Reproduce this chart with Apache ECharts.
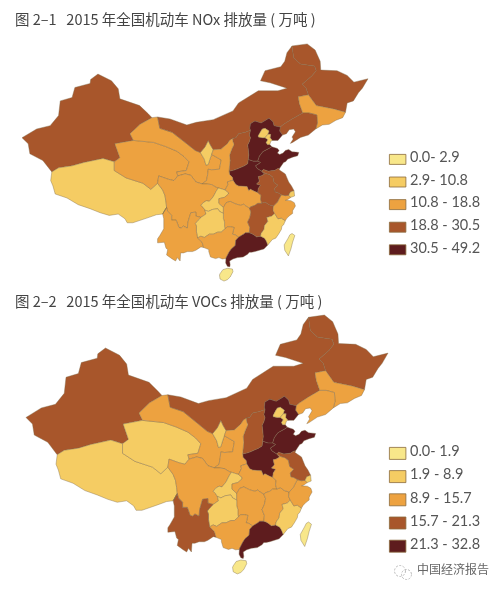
<!DOCTYPE html>
<html><head><meta charset="utf-8">
<style>html,body{margin:0;padding:0;background:#fff}#c{width:503px;height:591px}</style>
<script src="https://cdn.jsdelivr.net/npm/echarts@6/dist/echarts.min.js"></script>
</head><body><div id="c"></div>
<script>
const titleNox = '图 2–1   2015 年全国机动车 NOx 排放量 ( 万吨 )';
const titleVocs = '图 2–2   2015 年全国机动车 VOCs 排放量 ( 万吨 )';
const watermark = '中国经济报告';
const provinces = ['新疆','西藏','青海','甘肃','宁夏','内蒙古','黑龙江','吉林','辽宁','河北','北京','天津','山东','河南','山西','陕西','四川','重庆','湖北','湖南','贵州','云南','广西','广东','江西','福建','浙江','安徽','江苏','上海','海南','台湾'];
const noxValues = [22.1,3.4,11.5,14.2,9.6,27.4,24.6,17.3,26.8,49.2,8.9,9.8,46.5,41.3,28.9,17.6,18.2,10.2,18.4,18.1,10.5,17.9,16.5,36.7,20.3,10.6,18.5,21.2,29.8,9.5,2.5,0.0];
const vocsValues = [17.0,2.5,3.9,9.6,6.2,18.9,18.1,12.3,15.2,32.8,7.4,7.1,30.2,27.6,17.3,12.4,15.3,7.8,13.6,13.9,8.2,16.1,11.5,26.4,12.0,8.5,15.1,13.7,20.6,5.5,1.4,0.0];
const noxBreaks = [0,2.9,10.8,18.8,30.5,49.2];
const vocsBreaks = [0,1.9,8.9,15.7,21.3,32.8];
const noxLabels = ['0.0- 2.9','2.9- 10.8','10.8 - 18.8','18.8 - 30.5','30.5 - 49.2'];
const vocsLabels = ['0.0- 1.9','1.9 - 8.9','8.9 - 15.7','15.7 - 21.3','21.3 - 32.8'];
const classColors = ['#F8E78A','#F5CC63','#EDA240','#A8562B','#5E1C1E'];

// Province outlines in lon/lat, as shared border arcs
const arcs = {
xj_outer:[[78.8,34.5],[77.2,36.2],[74.9,37.2],[74.6,38.7],[73.5,39.6],[76.1,40.9],[78.5,41.4],[80,42.9],[80.3,45.1],[82.4,45.6],[82.9,47.1],[85.6,47.7],[85.7,48.3],[87,49.1],[89.4,48.1],[90.6,46.9],[90.9,45.4],[94.4,44.4],[95.9,43.2],[96.6,42.6]],
xj_gs:[[96.6,42.6],[94.5,41.6],[92.7,40.2],[93.3,39.2]],
xj_qh:[[93.3,39.2],[90,38.7],[90.9,36.6],[89.9,36]],
xj_xz:[[89.9,36],[87.9,36.5],[84.5,35.9],[82.4,35.4],[80,35.1],[78.8,34.5]],
xz_outer:[[78.8,34.5],[78.6,33.2],[79,32.4],[79.4,31.2],[81.5,30.6],[83.5,29.6],[85.6,29],[87.4,28.4],[89,28],[90.6,28.2],[91.8,27.5],[92.2,26.9],[93.2,26.9],[95.7,27.6],[97.4,28.1],[98.5,28.2]],
xz_yn:[[98.5,28.2],[99.2,29.2]],
xz_sc:[[99.2,29.2],[99.1,30],[98.9,31],[98.5,31.8],[97.6,32.8]],
xz_qh:[[97.6,32.8],[96.4,31.9],[95,32.8],[92,33.6],[89.9,34.7],[89.9,36]],
sc_qh:[[97.6,32.8],[97.8,33.9],[99.5,33.4],[100.5,33.2],[101.2,33.9]],
qh_gs:[[93.3,39.2],[96.9,38.9],[99,38.3],[101,37.6],[102.3,36.8],[103.2,36],[102.7,34.7],[101,34.5],[101.2,33.9]],
gs_out:[[96.6,42.6],[97.6,42.7]],
gs_im:[[97.6,42.7],[98,41],[100.2,40.4],[102.8,38.7],[104.3,37.7],[105.2,37.4]],
nx_im:[[105.2,37.4],[106,38.2],[106.6,39.2],[107,38.5],[107.5,37.8]],
nx_sn:[[107.5,37.8],[107.2,37.1]],
gs_nx:[[107.2,37.1],[106.9,36.4],[106.6,35.6],[106.2,35.5],[105.9,36.4],[105.2,37.4]],
gs_sn:[[107.2,37.1],[108.9,36.3],[108.6,34.9],[107.2,34.8],[106.6,34.9],[106.5,34.1],[106.3,33.2],[105.5,32.7]],
gs_sc:[[105.5,32.7],[104.4,33],[103.5,34],[102.5,34.2],[101.2,33.9]],
im_out:[[97.6,42.7],[99.8,42.4],[102.8,41.5],[104.5,41.9],[107.5,42.3],[111,43.6],[112,44.8],[115.5,46.6],[119,46.6],[120.6,47],[117.6,47.8],[115.9,48.1],[116.7,49.6],[119.5,50.2],[120.2,51],[120.6,52.3],[121.5,53.3]],
hlj_im:[[121.5,53.3],[121.8,51.5],[123,50.6],[125.5,50.3],[125.8,49.6],[125,48.8],[123.3,47.6],[124,47],[124.4,46]],
im_jl:[[124.4,46],[122.6,45.7],[122.8,44.7],[123.4,43.3]],
im_ln:[[123.4,43.3],[121.5,42.4],[120,41.6],[119.4,41.2]],
im_heb:[[119.4,41.2],[118.3,41.4],[118.1,42],[117.4,42.5],[116.8,42.2],[116,41.8],[114.9,42.1],[114.1,41.7],[114,41],[114.1,40.7]],
im_sxi:[[114.1,40.7],[113.2,40.4],[112,40.2],[111.5,39.6],[110.9,39.5]],
im_sn:[[110.9,39.5],[110.4,39.2],[110,38.7],[108.9,37.9],[107.5,37.8]],
hlj_out:[[121.5,53.3],[124.2,53.6],[125.6,52.7],[126.5,51],[126.6,49.7],[129.5,49.6],[131.3,48.9],[132.5,47.9],[135,48.4],[134,47],[133.3,46.3],[132.4,45.1],[131.3,44.8],[131,43.4]],
hlj_jl:[[131,43.4],[128.9,43.9],[125.8,44.4],[124.4,46]],
jl_out:[[131,43.4],[130.5,42.6],[129.3,42.2],[128.1,41.6],[126.9,41.5],[125.7,40.9]],
jl_ln:[[125.7,40.9],[126,41.8],[125.9,43],[124.5,43.3],[123.4,43.3]],
ln_coast:[[125.7,40.9],[124.4,40],[123,39.65],[121.6,38.9],[121.2,38.75],[121.7,39.4],[121.5,39.7],[122.1,40.5],[121.8,40.9],[121,40.8],[120.5,40.2],[119.8,40]],
heb_ln:[[119.8,40],[119.3,40.6],[119.4,41.2]],
heb_coast1:[[119.8,40],[119,39.2],[118,39.2]],
tj_heb1:[[118,39.2],[117.6,39.6],[117.7,40.1],[117.2,40.1]],
bj_heb:[[117.2,40.1],[117.4,40.6],[116.7,41],[116.2,40.9],[115.9,40.5],[115.5,39.9],[115.5,39.7],[116.2,39.6],[116.7,39.6]],
tj_heb2:[[116.7,39.6],[116.9,39.5],[117.2,39.3],[116.9,38.9],[117.1,38.6],[117.55,38.6]],
heb_coast2:[[117.55,38.6],[117.9,38.25]],
bj_tj:[[116.7,39.6],[117.2,40.1]],
tj_coast:[[117.55,38.6],[117.75,39.1],[118,39.2]],
heb_sd:[[115.4,36.1],[115.7,36.85],[116.3,37.5],[117.4,38],[117.9,38.25]],
heb_hen:[[113.7,36.35],[114.6,36.1],[115.4,36.1]],
heb_sxi:[[114.1,40.7],[113.9,40],[114.1,39.6],[113.9,39],[113.6,38.5],[113.7,37.9],[113.8,37],[113.7,36.35]],
sd_coast:[[117.9,38.25],[118.9,38],[119.2,37.7],[118.9,37.3],[119.3,37.1],[119.9,37.3],[120.3,37.7],[120.9,37.85],[121.5,37.5],[122.2,37.45],[122.7,37.4],[122.5,36.9],[121.6,36.7],[120.7,36.4],[120.4,36.05],[120,35.9],[119.3,35.05]],
sd_js:[[119.3,35.05],[118.9,34.95],[118.4,34.7],[117.8,34.65],[117.3,34.6],[116.4,34.85],[116.1,34.6]],
hen_sd:[[116.1,34.6],[115.3,35],[115,35.4],[115.9,35.9],[115.4,36.1]],
ah_hen:[[116.1,34.6],[116.6,34.2],[116,33.9],[115.5,33.8],[115.7,33.1],[115.2,32.7],[115.9,32.5],[115.5,32],[115.4,31.4]],
hub_hen:[[115.4,31.4],[114.8,31.6],[114.1,31.9],[113.8,31.7],[113.5,32.3],[112.7,32.35],[112,32.4],[111.5,32.6],[111,33.25]],
hen_sn:[[111,33.25],[110.9,33.7],[110.4,34.1],[110.3,34.6]],
hen_sxi:[[110.3,34.6],[111.3,34.8],[112.2,35.1],[113,35.4],[113.6,35.7],[113.7,36.35]],
sxi_sn:[[110.3,34.6],[110.4,35.4],[110.5,36.2],[110.4,37],[110.8,37.9],[111.2,38.6],[111,39],[110.9,39.5]],
sn_sc:[[105.5,32.7],[106.3,32.7],[107.2,32.6],[108,32.2],[108.4,32.1]],
sn_cq:[[108.4,32.1],[109.6,31.8]],
sn_hub:[[109.6,31.8],[110.1,32.6],[110,33],[111,33.25]],
sc_cq:[[108.4,32.1],[108,31.6],[107.5,30.8],[106.8,30.1],[106.3,30.2],[105.7,29.9],[105.3,29.5],[105.7,29.2],[106,28.8]],
sc_gz:[[106,28.8],[106.2,28.2],[105.3,27.7]],
sc_yn:[[105.3,27.7],[104.4,27.9],[104.4,28.5],[103.5,28.4],[103,27],[102.9,26.1],[102.2,26.4],[101.8,26.1],[101.4,26.2],[100.9,27.3],[100.1,27.3],[100.1,28],[99.4,28.6],[99.2,29.2]],
cq_hub:[[109.6,31.8],[110.2,31.4],[110.2,31.2],[109.5,30.7],[108.5,30.5],[108.5,29.8],[109.3,29.2]],
cq_hun:[[109.3,29.2],[109.3,28.3]],
cq_gz:[[109.3,28.3],[108.6,28.6],[108.3,29],[107.4,28.9],[106.6,28.6],[106,28.8]],
hub_ah:[[115.4,31.4],[116,31],[115.9,30.4],[116.1,29.8]],
hub_jx:[[116.1,29.8],[115.4,29.8],[114.9,29.5],[114.2,29.3],[113.9,29.1]],
hub_hun:[[113.9,29.1],[113.1,29.5],[112.9,29.7],[112.4,29.5],[111.5,29.7],[110.5,30.1],[109.8,29.9],[109.3,29.2]],
hun_jx:[[113.9,29.1],[114.2,28.5],[114,27.7],[113.6,27],[114,26.2],[113.9,25.4]],
hun_gd:[[113.9,25.4],[113.2,25.4],[112.9,25.2],[112.7,25.1],[112,24.75]],
hun_gx:[[112,24.75],[111.4,25.1],[110.9,25.2],[111,25.5],[111.2,26.2],[110.6,26.3],[110,26.3],[109.6,26]],
hun_gz:[[109.6,26],[109.5,26.3],[109.5,27],[109.3,27.5],[109.3,28.3]],
gz_gx:[[109.6,26],[108.9,25.5],[108.3,25.5],[107.5,25.2],[106.8,25.2],[105.9,24.7],[105.3,24.9],[104.7,24.65]],
gz_yn:[[104.7,24.65],[104.5,25.6],[104.5,26.4],[104.3,26.8],[104.8,27.3],[105.3,27.7]],
yn_gx:[[104.7,24.65],[105.5,24],[105.8,23.2]],
yn_out:[[105.8,23.2],[105.3,23.3],[104.4,22.8],[103.8,22.6],[102.9,22.6],[102.2,22.4],[101.7,22.4],[101.6,21.2],[101.1,21.7],[100.8,21.2],[100.2,21.5],[99.2,22.1],[99.4,22.9],[99.1,23.1],[98.8,24],[97.6,23.9],[97.6,24.5],[98,25],[98.7,26],[98.7,27.5],[98.5,28.2]],
gx_gd:[[112,24.75],[111.5,24.3],[111.4,23.5],[110.7,23],[110.3,22.5],[109.8,21.7],[109.75,21.55]],
gx_out:[[109.75,21.55],[109.1,21.5],[108.5,21.7],[107.9,21.55],[107,21.8],[106.7,22.6],[106.7,22.9],[105.8,23.2]],
jx_gd:[[113.9,25.4],[114.3,25.3],[114.7,25.1],[115.2,24.8],[115.9,24.9]],
gd_fj:[[115.9,24.9],[116.6,24.6],[116.9,24.2],[117.2,23.6]],
gd_coast:[[117.2,23.6],[116.5,23],[115.7,22.8],[114.9,22.6],[114.3,22.5],[113.9,22.5],[113.6,22.2],[112.8,21.8],[111.8,21.7],[111,21.5],[110.4,21.2],[110.5,20.6],[110.4,20.3],[110,20.4],[109.7,20.9],[109.75,21.55]],
jx_ah:[[116.1,29.8],[116.7,30],[117.4,29.6],[118.2,29.4]],
jx_zj:[[118.2,29.4],[118.1,28.8],[118.4,28.3]],
jx_fj:[[118.4,28.3],[117.9,27.9],[117,27.7],[117.2,27.1],[116.6,26.5],[116.5,25.9],[116,25.3],[115.9,24.9]],
fj_zj:[[118.4,28.3],[119,27.5],[119.6,27.6],[120.3,27.2]],
fj_coast:[[120.3,27.2],[120,26.6],[119.7,26.4],[119.6,25.9],[119.1,25.2],[118.6,24.6],[118,24.4],[117.2,23.6]],
zj_js:[[119.6,31.1],[120.3,30.95],[120.9,31]],
zj_sh:[[120.9,31],[121.3,30.7]],
zj_coast:[[121.3,30.7],[120.7,30.35],[120.3,30.25],[121.3,30.2],[121.9,29.9],[122.1,29.4],[121.6,28.7],[121.6,28.3],[121.1,28],[120.6,27.6],[120.3,27.2]],
zj_ah:[[118.2,29.4],[118.9,30],[119.2,30.5],[119.6,31.1]],
js_ah:[[116.1,34.6],[116.8,34.25],[117.5,34.1],[118.1,33.7],[118.3,32.9],[119,32.5],[118.4,32],[118.5,31.5],[119,31.4],[119.6,31.1]],
js_coast:[[119.3,35.05],[119.2,34.8],[120.3,34.2],[120.9,33],[121.4,32.4],[121.85,31.7]],
js_sh:[[121.85,31.7],[121.2,31.5],[120.9,31]],
sh_coast:[[121.85,31.7],[121.95,30.9],[121.3,30.7]],
hainan:[[108.7,19.3],[109.2,19.9],[110,20.1],[110.9,20],[111,19.6],[110.5,18.8],[110,18.4],[109.4,18.2],[108.7,18.5],[108.6,19.1],[108.7,19.3]],
taiwan:[[121.5,25.3],[122,25],[121.6,24],[121.3,23],[120.85,21.95],[120.2,22.8],[120.1,23.6],[120.8,24.6],[121.1,25.1],[121.5,25.3]]
};
const rings = {
'新疆':['xj_outer','xj_gs','xj_qh','xj_xz'],
'西藏':['xz_outer','xz_yn','xz_sc','xz_qh','xj_xz'],
'青海':['-xj_qh','qh_gs','-sc_qh','xz_qh'],
'甘肃':['gs_out','gs_im','-gs_nx','gs_sn','gs_sc','-qh_gs','-xj_gs'],
'宁夏':['nx_im','nx_sn','gs_nx'],
'内蒙古':['im_out','hlj_im','im_jl','im_ln','im_heb','im_sxi','im_sn','-nx_im','-gs_im'],
'黑龙江':['hlj_out','hlj_jl','-hlj_im'],
'吉林':['-hlj_jl','jl_out','jl_ln','-im_jl'],
'辽宁':['-im_ln','-jl_ln','ln_coast','heb_ln'],
'河北':['-im_heb','-heb_ln','heb_coast1','tj_heb1','bj_heb','tj_heb2','heb_coast2','-heb_sd','-heb_hen','-heb_sxi'],
'北京':['bj_heb','bj_tj'],
'天津':['tj_heb1','-bj_tj','tj_heb2','tj_coast'],
'山东':['heb_sd','sd_coast','sd_js','hen_sd'],
'河南':['heb_hen','-hen_sd','ah_hen','hub_hen','hen_sn','hen_sxi'],
'山西':['heb_sxi','-hen_sxi','sxi_sn','-im_sxi'],
'陕西':['im_sn','nx_sn','gs_sn','sn_sc','sn_cq','sn_hub','hen_sn','sxi_sn'],
'四川':['-gs_sc','sn_sc','sc_cq','sc_gz','sc_yn','xz_sc','sc_qh'],
'重庆':['sn_cq','cq_hub','cq_hun','cq_gz','-sc_cq'],
'湖北':['-hub_hen','hub_ah','hub_jx','hub_hun','-cq_hub','sn_hub'],
'湖南':['-hub_hun','hun_jx','hun_gd','hun_gx','hun_gz','-cq_hun'],
'贵州':['-cq_gz','-hun_gz','gz_gx','gz_yn','-sc_gz'],
'云南':['-sc_yn','-gz_yn','yn_gx','yn_out','-xz_yn'],
'广西':['-hun_gx','gx_gd','gx_out','-yn_gx','-gz_gx'],
'广东':['-hun_gd','jx_gd','gd_fj','gd_coast','-gx_gd'],
'江西':['-hub_jx','jx_ah','jx_zj','jx_fj','-jx_gd','-hun_jx'],
'福建':['-jx_fj','fj_zj','fj_coast','-gd_fj'],
'浙江':['zj_js','zj_sh','zj_coast','-fj_zj','-jx_zj','zj_ah'],
'安徽':['js_ah','-zj_ah','-jx_ah','-hub_ah','-ah_hen'],
'江苏':['-sd_js','js_coast','js_sh','-zj_js','-js_ah'],
'上海':['-js_sh','sh_coast','-zj_sh'],
'海南':['hainan'],
'台湾':['taiwan']
};
function ringCoords(list){
  const out=[];
  list.forEach(a=>{
    const pts = a[0]==='-' ? arcs[a.slice(1)].slice().reverse() : arcs[a];
    pts.forEach(p=>{const l=out[out.length-1]; if(!l||l[0]!==p[0]||l[1]!==p[1]) out.push(p);});
  });
  const f=out[0],l=out[out.length-1];
  if(f[0]!==l[0]||f[1]!==l[1]) out.push(f);
  return out;
}
function geoJson(){return {type:'FeatureCollection',features:provinces.map(n=>({
  type:'Feature',properties:{name:n},geometry:{type:'Polygon',coordinates:[ringCoords(rings[n])]}
}))};}
echarts.registerMap('provincesNox',geoJson());
echarts.registerMap('provincesVocs',geoJson());

const FONT='"Noto Sans CJK SC","Noto Sans",sans-serif';
const chart=echarts.init(document.getElementById('c'),null,{renderer:'canvas'});
function pieces(b,labels){return labels.map((t,i)=>({min:b[i],max:b[i+1],label:t,color:classColors[i]}));}
function mapSeries(name,mapName,vals,center,size,aspect){
  return {type:'map',name,map:mapName,layoutCenter:center,layoutSize:size,aspectScale:aspect,silent:true,roam:false,
    label:{show:false},emphasis:{disabled:true},select:{disabled:true},
    itemStyle:{borderColor:'#7d6a48',borderWidth:0.4,areaColor:'#fff'},
    data:provinces.map((n,i)=>({name:n,value:vals[i]}))};
}
function legendGraphic(labels,x,tops,step,h){
  const g=[];
  labels.forEach((t,i)=>{
    g.push({type:'rect',left:x,top:tops+i*step,shape:{width:16.5,height:h},style:{fill:classColors[i],stroke:'#8a6a3c',lineWidth:0.8},silent:true});
    g.push({type:'text',left:x+21,top:tops+i*step+h/2-9,style:{text:t,font:'14.5px Lato,"Open Sans",sans-serif',fill:'#555'},silent:true});
  });
  return g;
}
const graphics=[].concat(
  legendGraphic(noxLabels,389,154,22.6,10),
  legendGraphic(vocsLabels,389,447,23.2,12),
  [
   {type:'text',left:417,top:563,style:{text:watermark,font:'12px '+FONT,fill:'#666'},silent:true},
   {type:'circle',left:392,top:563,shape:{r:5.5},style:{fill:'none',stroke:'#bbb',lineWidth:1,lineDash:[2,1.5]},silent:true},
   {type:'circle',left:399,top:567,shape:{r:5},style:{fill:'none',stroke:'#bbb',lineWidth:1,lineDash:[2,1.5]},silent:true}
  ]);
chart.setOption({
  animation:false,backgroundColor:'#fff',
  title:[
    {text:titleNox,left:15,top:12,padding:0,textStyle:{fontFamily:FONT,fontSize:14.5,fontWeight:'normal',color:'#444'}},
    {text:titleVocs,left:15,top:294,padding:0,textStyle:{fontFamily:FONT,fontSize:14.5,fontWeight:'normal',color:'#444'}}
  ],
  visualMap:[
    {type:'piecewise',show:false,seriesIndex:0,pieces:pieces(noxBreaks,noxLabels)},
    {type:'piecewise',show:false,seriesIndex:1,pieces:pieces(vocsBreaks,vocsLabels)}
  ],
  series:[
    mapSeries('NOx','provincesNox',noxValues,[195,162.5],346,0.84),
    mapSeries('VOCs','provincesVocs',vocsValues,[207,444.5],362,0.805)
  ],
  graphic:graphics
});
</script></body></html>
